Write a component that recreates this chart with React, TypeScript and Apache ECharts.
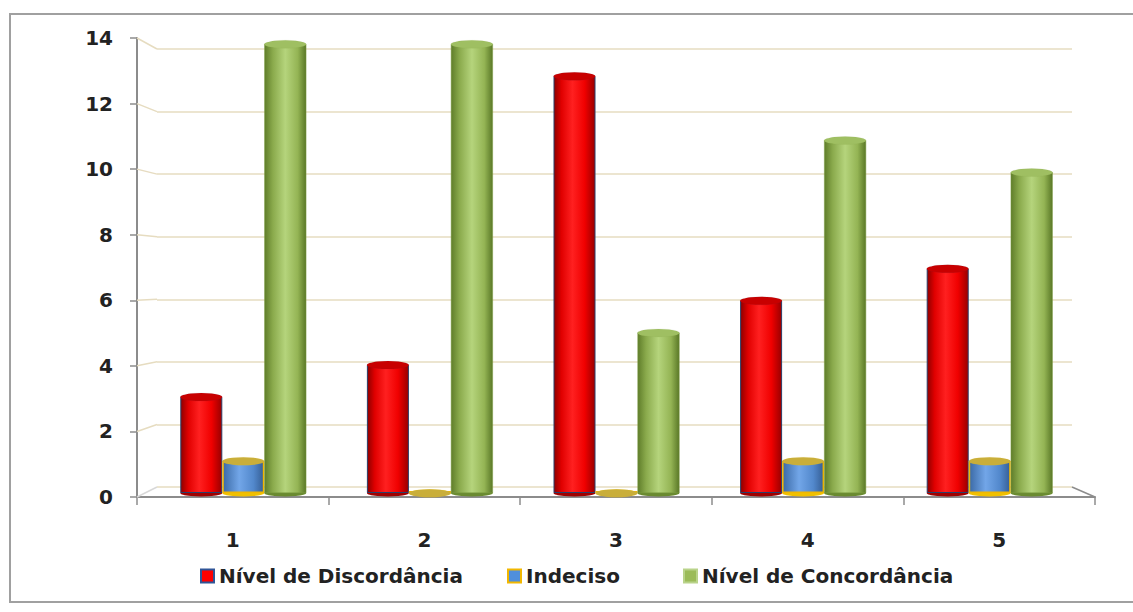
import React, { useEffect, useRef } from "react";
import * as echarts from "echarts";

const categories = ["1", "2", "3", "4", "5"];
const seriesNames = ["Nível de Discordância", "Indeciso", "Nível de Concordância"];
const discordancia = [3, 4, 13, 6, 7];
const indeciso = [1, 0, 0, 1, 1];
const concordancia = [14, 14, 5, 11, 10];
const yTickValues = [0, 2, 4, 6, 8, 10, 12, 14];

const FONT = "DejaVu Sans";
// front axes grid
const FRONT = { left: 137, top: 38, width: 958, height: 459 };
// back wall grid
const BACK = { left: 157, top: 49, width: 915, height: 438 };
// bars grid
const BARS = { left: 150, top: 44, width: 933, height: 449 };
const Y_MAX = 14;

const grad = (stops: [number, string][]) =>
  new echarts.graphic.LinearGradient(0, 0, 1, 0, stops.map(([offset, color]) => ({ offset, color })));

const redGrad = () => grad([[0, "#8e0000"], [0.18, "#e00000"], [0.45, "#ff2020"], [0.75, "#f00000"], [1, "#9a0000"]]);
const blueGrad = () => grad([[0, "#3b6aa6"], [0.4, "#72a6e8"], [0.75, "#5288cc"], [1, "#365f96"]]);
const greenGrad = () => grad([[0, "#5f7d2a"], [0.2, "#8aaa4c"], [0.5, "#b5d47c"], [0.8, "#94b454"], [1, "#5a7827"]]);

export default function App() {
  const ref = useRef<HTMLDivElement>(null);
  useEffect(() => {
    if (!ref.current) return;
    const chart = echarts.init(ref.current, undefined, { renderer: "svg" });

    const connectors: any[] = yTickValues.map((v) => ({
      type: "line",
      silent: true,
      shape: {
        x1: FRONT.left,
        y1: FRONT.top + FRONT.height * (1 - v / Y_MAX),
        x2: BACK.left,
        y2: BACK.top + BACK.height * (1 - v / Y_MAX),
      },
      style: { stroke: v === 0 ? "#d8d8d8" : "#e6dcc0", lineWidth: 1.5 },
      z: 1,
    }));

    const barSeries = (name: string, data: number[], color: any, border: string, bw: number, minH = 0) => ({
      name,
      type: "bar",
      xAxisIndex: 2,
      yAxisIndex: 2,
      data,
      barWidth: 42,
      barGap: "0%",
      barMinHeight: minH,
      z: 3,
      itemStyle: { color, borderColor: border, borderWidth: bw },
    });
    const capSeries = (name: string, data: number[], fill: string, border: string) => ({
      name,
      type: "pictorialBar",
      xAxisIndex: 2,
      yAxisIndex: 2,
      data,
      barWidth: 42,
      barGap: "0%",
      symbol: "circle",
      symbolSize: [42, 8],
      symbolPosition: "end",
      symbolOffset: [0, "-50%"],
      z: 5,
      itemStyle: { color: fill, borderColor: border, borderWidth: 1.2 },
    });
    const baseSeries = (name: string, data: number[], fill: string) => ({
      name,
      type: "pictorialBar",
      xAxisIndex: 3,
      yAxisIndex: 2,
      data,
      barWidth: 42,
      barGap: "0%",
      symbol: "circle",
      symbolSize: [42, 7],
      symbolPosition: "start",
      symbolOffset: [0, "50%"],
      z: 2,
      itemStyle: { color: fill },
    });

    const legendCommon = {
      orient: "horizontal",
      top: 566,
      itemWidth: 13,
      itemHeight: 13,
      padding: 0,
      selectedMode: false,
      textStyle: { fontFamily: FONT, fontSize: 20, fontWeight: "bold", color: "#222" },
    };

    chart.setOption({
      animation: false,
      backgroundColor: "#ffffff",
      grid: [
        { ...FRONT, containLabel: false },
        { ...BACK, containLabel: false },
        { ...BARS, containLabel: false },
      ],
      legend: [
        {
          ...legendCommon,
          left: 200,
          data: [{ name: seriesNames[0], icon: "rect", itemStyle: { color: "#ff0000", borderColor: "#2f5597", borderWidth: 2 } }],
        },
        {
          ...legendCommon,
          left: 507,
          data: [{ name: seriesNames[1], icon: "rect", itemStyle: { color: "#4f8fdc", borderColor: "#f2b700", borderWidth: 2 } }],
        },
        {
          ...legendCommon,
          left: 683,
          data: [{ name: seriesNames[2], icon: "rect", itemStyle: { color: "#9bbb59", borderColor: "#b9d38a", borderWidth: 2 } }],
        },
      ],
      xAxis: [
        {
          gridIndex: 0,
          type: "category",
          data: categories,
          axisLine: { show: true, lineStyle: { color: "#8c8c8c", width: 2 } },
          axisTick: { show: true, length: 8, lineStyle: { color: "#8c8c8c", width: 1.5 } },
          axisLabel: { margin: 33, fontFamily: FONT, fontSize: 20, fontWeight: "bold", color: "#222" },
          splitLine: { show: false },
        },
        { gridIndex: 1, type: "category", data: categories, show: false },
        { gridIndex: 2, type: "category", data: categories, show: false },
        { gridIndex: 2, type: "category", data: categories, show: false },
      ],
      yAxis: [
        {
          gridIndex: 0,
          type: "value",
          min: 0,
          max: Y_MAX,
          interval: 2,
          axisLine: { show: true, lineStyle: { color: "#8c8c8c", width: 2 } },
          axisTick: { show: true, length: 7, lineStyle: { color: "#8c8c8c", width: 1.5 } },
          axisLabel: { margin: 24, fontFamily: FONT, fontSize: 20, fontWeight: "bold", color: "#222" },
          splitLine: { show: false },
        },
        {
          gridIndex: 1,
          type: "value",
          min: 0,
          max: Y_MAX,
          interval: 2,
          axisLine: { show: false },
          axisTick: { show: false },
          axisLabel: { show: false },
          splitLine: { show: true, lineStyle: { color: "#e6dcc0", width: 1.5 } },
        },
        { gridIndex: 2, type: "value", min: 0, max: Y_MAX, show: false },
      ],
      graphic: [
        {
          type: "rect",
          silent: true,
          shape: { x: 10, y: 14, width: 1135, height: 588 },
          style: { fill: "none", stroke: "#a0a0a0", lineWidth: 2 },
          z: 0,
        },
        ...connectors,
        {
          type: "line",
          silent: true,
          shape: {
            x1: BACK.left + BACK.width,
            y1: BACK.top + BACK.height,
            x2: FRONT.left + FRONT.width,
            y2: FRONT.top + FRONT.height,
          },
          style: { stroke: "#8c8c8c", lineWidth: 1.5 },
          z: 1,
        },
      ],
      series: [
        baseSeries("b0", discordancia, "#a00000"),
        baseSeries("b1", indeciso, "#f0c000"),
        baseSeries("b2", concordancia, "#6a8a30"),
        barSeries(seriesNames[0], discordancia, redGrad(), "#2a3f6a", 1),
        barSeries(seriesNames[1], indeciso, blueGrad(), "#f2b700", 1.5, 2),
        barSeries(seriesNames[2], concordancia, greenGrad(), "#7e9e44", 0.5),
        capSeries("c0", discordancia, "#c80000", "#2a3f6a"),
        capSeries("c1", indeciso, "#c9ae3a", "#f5c400"),
        capSeries("c2", concordancia, "#9fbf62", "#6f8f35"),
      ],
    });
    return () => chart.dispose();
  }, []);
  return (
    <div
      ref={ref}
      style={{ position: "fixed", left: 0, top: 0, width: 1133, height: 612 }}
    />
  );
}
